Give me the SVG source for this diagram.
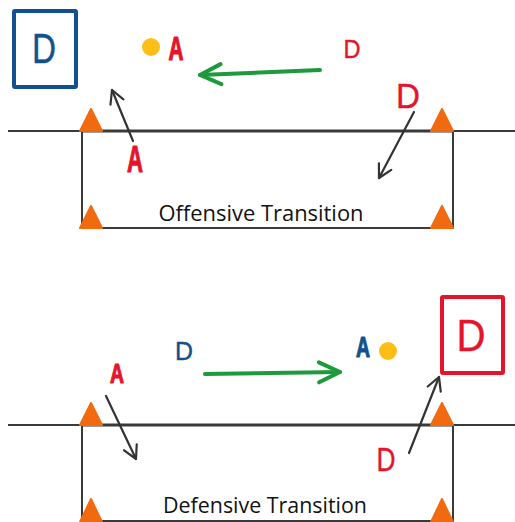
<svg xmlns="http://www.w3.org/2000/svg" width="515" height="522" viewBox="0 0 515 522">
  <style>
    .line { stroke: #3a3a3a; stroke-width: 2; fill: none; }
    .edge { stroke: #3a3a3a; stroke-width: 3; fill: none; }
    .cone { fill: #f26a10; stroke: #f26a10; stroke-width: 2; stroke-linejoin: round; }
    .move { stroke: #333333; stroke-width: 2.2; fill: none; stroke-linecap: round; }
    .pass { stroke: #1e9a3c; stroke-width: 4; fill: none; stroke-linecap: round; }
    .ball { fill: #fdbf17; }
    .hand { font-family: "Liberation Sans", Arial, sans-serif; text-anchor: middle; stroke-width: 1.2; stroke-linejoin: round; }
    .thin { stroke-width: 0.4; }
    .red { fill: #e5142c; stroke: #e5142c; }
    .blue { fill: #13508e; stroke: #13508e; }
    .label { font-family: "Open Sans", "Liberation Sans", sans-serif; font-size: 22px; fill: #111111; text-anchor: middle; }
    .bluebox { fill: none; stroke: #13508e; stroke-width: 4; stroke-linejoin: round; }
    .redbox { fill: none; stroke: #e5142c; stroke-width: 4; stroke-linejoin: round; }
  </style>
  <defs>
    <marker id="headDark" markerUnits="userSpaceOnUse" markerWidth="30" markerHeight="30" viewBox="-15 -15 30 30" refX="0" refY="0" orient="auto" overflow="visible">
      <path d="M-13,-7 L0,0 L-13,7" fill="none" stroke="#333333" stroke-width="2.2" stroke-linecap="round" stroke-linejoin="round"/>
    </marker>
    <marker id="headGreen" markerUnits="userSpaceOnUse" markerWidth="40" markerHeight="40" viewBox="-20 -20 40 40" refX="0" refY="0" orient="auto" overflow="visible">
      <path d="M-21,-10 L0,0 L-21,10" fill="none" stroke="#1e9a3c" stroke-width="4" stroke-linecap="round" stroke-linejoin="round"/>
    </marker>
  </defs>
  <rect width="515" height="522" fill="#ffffff"/>

  <!-- Top panel: field lines -->
  <g id="field-top">
    <line class="line" x1="8" y1="131" x2="515" y2="131"/>
    <path class="line" d="M82,131 L82,228 L453,228 L453,131"/>
    <line class="edge" x1="82" y1="131" x2="453" y2="131"/>
    <polygon class="cone" points="91,109 80,131 102,131"/>
    <polygon class="cone" points="442,109 431,131 453,131"/>
    <polygon class="cone" points="91,206 80,228 102,228"/>
    <polygon class="cone" points="442,206 431,228 453,228"/>
    <text class="label" x="261" y="221" textLength="205" lengthAdjust="spacingAndGlyphs">Offensive Transition</text>
  </g>

  <!-- Bottom panel: field lines -->
  <g id="field-bottom">
    <line class="line" x1="8" y1="425" x2="515" y2="425"/>
    <path class="line" d="M82,425 L82,521 L453,521 L453,425"/>
    <line class="edge" x1="82" y1="425" x2="453" y2="425"/>
    <polygon class="cone" points="91,403 80,425 102,425"/>
    <polygon class="cone" points="442,403 431,425 453,425"/>
    <polygon class="cone" points="91,499 80,522 102,522"/>
    <polygon class="cone" points="442,499 431,522 453,522"/>
    <text class="label" x="265" y="513" textLength="204" lengthAdjust="spacingAndGlyphs">Defensive Transition</text>
  </g>

  <!-- Players, ball and keepers: top panel -->
  <g id="keeper-top">
    <rect class="bluebox" x="14" y="11" width="62" height="76" rx="1"/>
    <text class="hand thin blue" x="44" y="63" font-size="42" textLength="24" lengthAdjust="spacingAndGlyphs">D</text>
  </g>
  <g id="ball-top">
    <circle class="ball" cx="151" cy="47" r="9"/>
  </g>
  <g id="attacker-top-ball">
    <text class="hand red" x="176" y="60" font-size="33" font-weight="bold" textLength="15" lengthAdjust="spacingAndGlyphs">A</text>
  </g>
  <g id="defender-top-far">
    <text class="hand thin red" x="352" y="58" font-size="26" textLength="17" lengthAdjust="spacingAndGlyphs">D</text>
  </g>
  <g id="defender-top-near">
    <text class="hand thin red" x="408" y="108" font-size="35" textLength="24" lengthAdjust="spacingAndGlyphs">D</text>
  </g>
  <g id="attacker-top-runner">
    <text class="hand red" x="135" y="172" font-size="37" font-weight="bold" textLength="16" lengthAdjust="spacingAndGlyphs">A</text>
  </g>

  <!-- Players, ball and keepers: bottom panel -->
  <g id="keeper-bottom">
    <rect class="redbox" x="442" y="297" width="61" height="76" rx="1"/>
    <text class="hand thin red" x="471" y="351" font-size="44" textLength="29" lengthAdjust="spacingAndGlyphs">D</text>
  </g>
  <g id="ball-bottom">
    <circle class="ball" cx="388" cy="351" r="9"/>
  </g>
  <g id="attacker-bottom-ball">
    <text class="hand blue" x="363" y="357" font-size="30" font-weight="bold" textLength="14" lengthAdjust="spacingAndGlyphs">A</text>
  </g>
  <g id="defender-bottom-far">
    <text class="hand thin blue" x="184" y="360" font-size="25" textLength="18" lengthAdjust="spacingAndGlyphs">D</text>
  </g>
  <g id="attacker-bottom-runner">
    <text class="hand red" x="117" y="383" font-size="28" font-weight="bold" textLength="14" lengthAdjust="spacingAndGlyphs">A</text>
  </g>
  <g id="defender-bottom-near">
    <text class="hand thin red" x="386" y="471" font-size="33" textLength="19" lengthAdjust="spacingAndGlyphs">D</text>
  </g>

  <!-- Runs and passes -->
  <g id="connectors">
    <line class="pass" x1="320" y1="70" x2="200" y2="75" marker-end="url(#headGreen)"/>
    <line class="move" x1="133" y1="141" x2="112" y2="90" marker-end="url(#headDark)"/>
    <line class="move" x1="414" y1="112" x2="379" y2="178" marker-end="url(#headDark)"/>
    <line class="pass" x1="205" y1="374" x2="340" y2="372" marker-end="url(#headGreen)"/>
    <line class="move" x1="106" y1="396" x2="136" y2="459" marker-end="url(#headDark)"/>
    <line class="move" x1="409" y1="453" x2="439" y2="377" marker-end="url(#headDark)"/>
  </g>
</svg>
